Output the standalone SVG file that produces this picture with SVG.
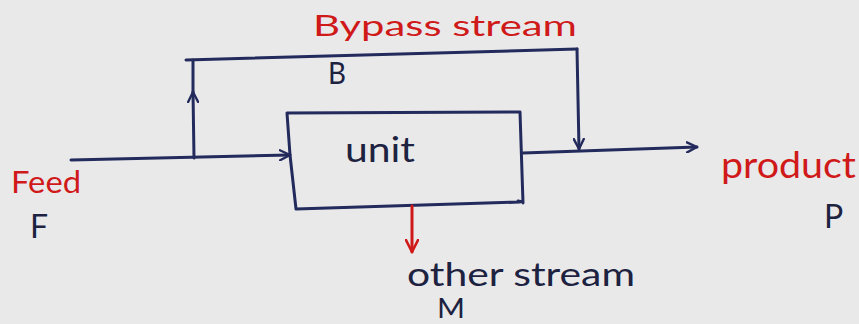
<svg xmlns="http://www.w3.org/2000/svg" width="859" height="324" viewBox="0 0 859 324">
  <style>
    .ln { fill: none; stroke: #232a5c; stroke-width: 3; stroke-linecap: round; stroke-linejoin: round; }
    .red { stroke: #d01a1a; }
    .lbl { font-family: "Lato", "Liberation Sans", sans-serif; }
    .rd { fill: #d01a1a; }
    .dk { fill: #1d2240; }
  </style>
  <defs>
    <marker id="chev" viewBox="0 0 12 12" refX="11" refY="6" markerWidth="12" markerHeight="12" markerUnits="userSpaceOnUse" orient="auto">
      <path d="M1,1 L11,6 L1,11" fill="none" stroke="#232a5c" stroke-width="2.4" stroke-linecap="round" stroke-linejoin="round"/>
    </marker>
    <marker id="chevRed" viewBox="0 0 14 14" refX="13" refY="7" markerWidth="14" markerHeight="14" markerUnits="userSpaceOnUse" orient="auto">
      <path d="M1,1 L13,7 L1,13" fill="none" stroke="#d01a1a" stroke-width="2.6" stroke-linecap="round" stroke-linejoin="round"/>
    </marker>
  </defs>

  <rect width="859" height="324" fill="#e9e9ea"/>

  <!-- process unit -->
  <g id="unit">
    <path class="ln" d="M287,113 L520,112 L523,203 M523,202 L518,201 M296,209 L520,202 M287,113 L290,155 L296,209"/>
    <text class="lbl dk" x="345" y="162" font-size="34" textLength="70" lengthAdjust="spacingAndGlyphs">unit</text>
  </g>

  <g id="feed">
    <text class="lbl rd" x="11" y="193" font-size="31" textLength="70" lengthAdjust="spacingAndGlyphs">Feed</text>
    <text class="lbl dk" x="30" y="238" font-size="32">F</text>
  </g>

  <g id="bypass">
    <text class="lbl rd" x="313" y="36" font-size="28" textLength="264" lengthAdjust="spacingAndGlyphs">Bypass   stream</text>
    <text class="lbl dk" x="328" y="84" font-size="30" textLength="18" lengthAdjust="spacingAndGlyphs">B</text>
  </g>

  <g id="product">
    <text class="lbl rd" x="721" y="178" font-size="36" textLength="135" lengthAdjust="spacingAndGlyphs">product</text>
    <text class="lbl dk" x="824" y="228" font-size="32">P</text>
  </g>

  <g id="other-stream">
    <text class="lbl dk" x="407" y="286" font-size="32" textLength="228" lengthAdjust="spacingAndGlyphs">other  stream</text>
    <text class="lbl dk" x="437" y="318" font-size="27" textLength="28" lengthAdjust="spacingAndGlyphs">M</text>
  </g>

  <!-- connectors -->
  <g id="connectors">
    <path class="ln" d="M71,160 L290,155" marker-end="url(#chev)"/>
    <path class="ln" d="M194,158 L193,92" marker-end="url(#chev)"/>
    <path class="ln" d="M193,92 L193,60"/>
    <path class="ln" d="M186,60 L577,49"/>
    <path class="ln" d="M577,49 L579,149" marker-end="url(#chev)"/>
    <path class="ln" d="M523,153 L697,147" marker-end="url(#chev)"/>
    <path class="ln red" d="M412,206 L412,252" marker-end="url(#chevRed)"/>
  </g>
</svg>
